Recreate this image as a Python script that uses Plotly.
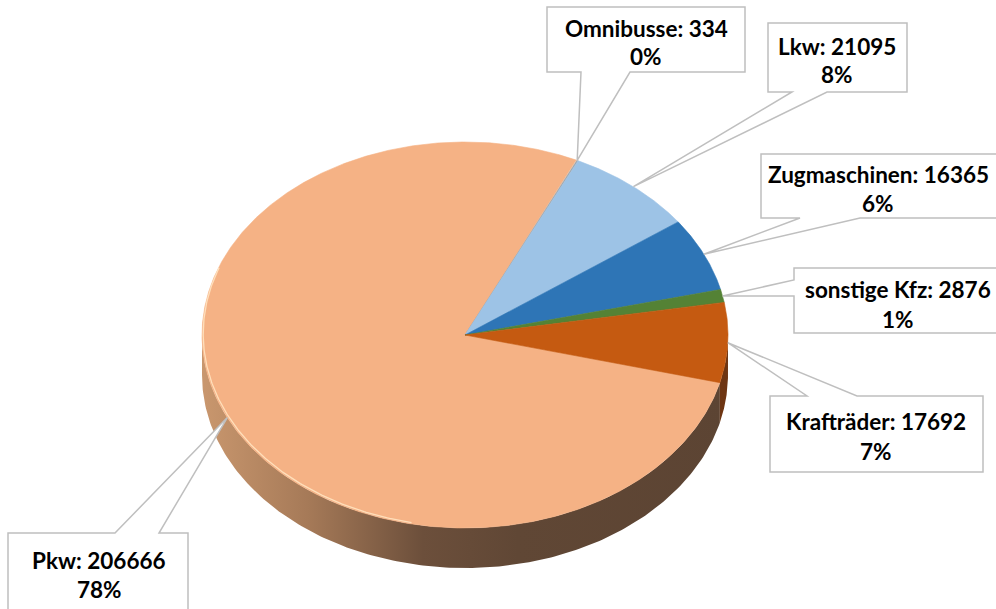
import numpy as np
import plotly.graph_objects as go

# ---------------- data ----------------
categories = ["Pkw", "Omnibusse", "Lkw", "Zugmaschinen", "sonstige Kfz", "Krafträder"]
values = [206666, 334, 21095, 16365, 2876, 17692]

# ---------------- styles / layout ----------------
top_colors = ["#F5B285", "#A5A5A5", "#9DC3E6", "#2E75B6", "#548235", "#C55A11"]
side_colors = ["#5F4634", "#6E6E6E", "#6A8299", "#1F4E79", "#385723", "#6E3512"]
W, H = 996, 609
CX, CY, RA, RB, DEPTH = 465, 335, 263, 193, 40
START_DEG = 104.3   # angle (clockwise from 12 o'clock) where the first slice starts

# callout boxes: (left, top, right, bottom, wedge side, wedge a, wedge b, text x, line1 y, line2 y)
boxes = {
    "Omnibusse":    (547, 7, 745, 72, "bottom", 581, 630, 646, 28, 56),
    "Lkw":          (768, 23, 907, 92, "bottom", 792, 827, 837, 46, 74),
    "Zugmaschinen": (761, 154, 1010, 218, "bottom", 800, 860, 878, 174, 203),
    "sonstige Kfz": (794, 268, 1010, 333, "left", 280, 296, 898, 289, 319),
    "Krafträder":   (770, 396, 983, 472, "top", 807, 857, 876, 421, 451),
    "Pkw":          (8, 533, 188, 620, "top", 115, 159, 99, 560, 589),
}

total = sum(values)
fracs = [v / total for v in values]


def ell(theta_deg, dy=0.0):
    t = np.radians(theta_deg)
    return CX + RA * np.sin(t), CY - RB * np.cos(t) + dy


fig = go.Figure()

# slice angle ranges
ranges = []
a0 = START_DEG
for f in fracs:
    a1 = a0 + f * 360
    ranges.append((a0, a1))
    a0 = a1

# side walls (visible front half: 90..270 deg)
for i, (s, e) in enumerate(ranges):
    for off in (-360, 0, 360):
        lo = max(s + off, 90)
        hi = min(e + off, 270)
        if hi <= lo:
            continue
        th = np.linspace(lo, hi, 200)
        xt, yt = ell(th)
        xb, yb = ell(th[::-1], DEPTH)
        xs = np.concatenate([xt, xb, xt[:1]])
        ys = np.concatenate([yt, yb, yt[:1]])
        if categories[i] == "Pkw":
            fig.add_trace(go.Scatter(
                x=xs, y=ys, mode="lines", fill="toself",
                line=dict(width=0, color="rgba(0,0,0,0)"),
                fillgradient=dict(
                    type="horizontal", start=CX - RA, stop=CX + RA,
                    colorscale=[[0, "#C9976E"], [0.2, "#A67A58"], [0.42, "#6C4F3B"],
                                [0.6, "#604735"], [1, "#5C4433"]]),
                hoverinfo="skip", showlegend=False))
        else:
            fig.add_trace(go.Scatter(
                x=xs, y=ys, mode="lines", fill="toself",
                line=dict(width=0, color=side_colors[i]), fillcolor=side_colors[i],
                hoverinfo="skip", showlegend=False))

# top surfaces
for i, (s, e) in enumerate(ranges):
    n = max(int((e - s) * 3), 4)
    th = np.linspace(s, e, n)
    xa, ya = ell(th)
    xs = np.concatenate([[CX], xa, [CX]])
    ys = np.concatenate([[CY], ya, [CY]])
    fig.add_trace(go.Scatter(
        x=xs, y=ys, mode="lines", fill="toself",
        line=dict(width=0.6, color=top_colors[i]), fillcolor=top_colors[i],
        hoverinfo="skip", showlegend=False, name=categories[i]))

# light rim highlight on front-left edge
th = np.linspace(192, 290, 200)
xh, yh = ell(th)
fig.add_trace(go.Scatter(x=xh + 1.2, y=yh - 1.2, mode="lines",
                         line=dict(width=1.3, color="rgba(255,226,190,0.95)"),
                         hoverinfo="skip", showlegend=False))

# callouts
shapes = []
annotations = []
for i, cat in enumerate(categories):
    s, e = ranges[i]
    mid = (s + e) / 2
    tx, ty = ell(mid)
    l, t, r, b, side, wa, wb, txx, y1, y2 = boxes[cat]
    if side == "bottom":
        path = f"M{l},{t} L{r},{t} L{r},{b} L{wb},{b} L{tx:.1f},{ty:.1f} L{wa},{b} L{l},{b} Z"
    elif side == "top":
        path = f"M{l},{t} L{wa},{t} L{tx:.1f},{ty:.1f} L{wb},{t} L{r},{t} L{r},{b} L{l},{b} Z"
    else:  # left
        path = f"M{l},{t} L{r},{t} L{r},{b} L{l},{b} L{l},{wb} L{tx:.1f},{ty:.1f} L{l},{wa} Z"
    shapes.append(dict(type="path", path=path, xref="x", yref="y",
                       fillcolor="white", line=dict(color="#BFBFBF", width=1.5),
                       layer="above"))
    pct = round(fracs[i] * 100)
    for txt, yy in ((f"{cat}: {values[i]}", y1), (f"{pct}%", y2)):
        annotations.append(dict(x=txx, y=yy, xref="x", yref="y", text=txt,
                                showarrow=False, xanchor="center", yanchor="middle",
                                font=dict(family="Lato", size=22.5, color="#000000",
                                          weight="bold")))

fig.update_layout(
    width=W, height=H,
    margin=dict(l=0, r=0, t=0, b=0),
    paper_bgcolor="white", plot_bgcolor="white",
    xaxis=dict(range=[0, W], visible=False, fixedrange=True),
    yaxis=dict(range=[H, 0], visible=False, fixedrange=True),
    shapes=shapes, annotations=annotations,
    showlegend=False,
)

fig.write_html("out.html", config={"displayModeBar": False},
               post_script="document.body.style.margin='0';document.body.style.padding='0';")
